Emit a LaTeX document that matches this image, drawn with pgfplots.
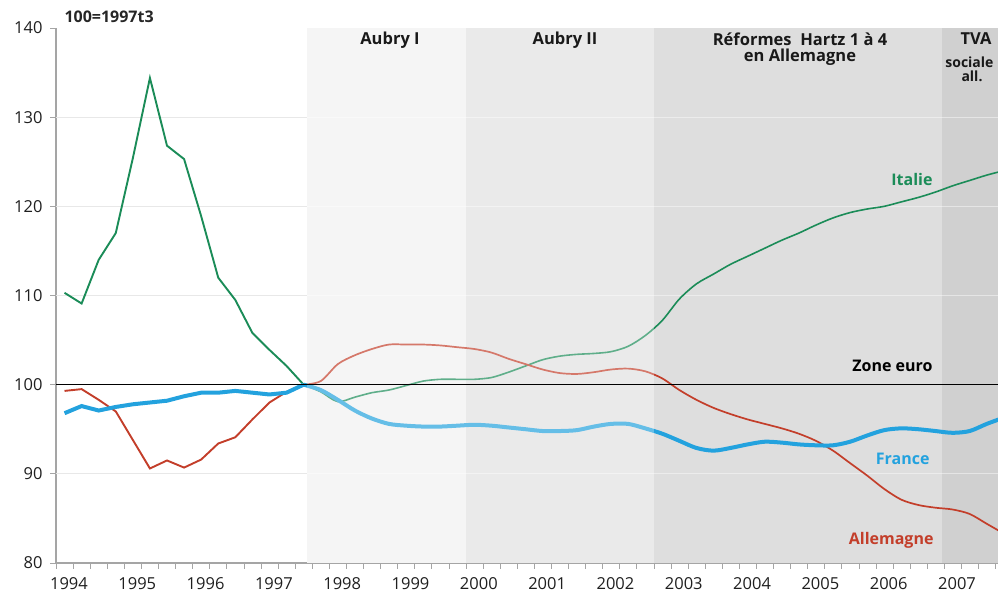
\documentclass[border=0pt]{standalone}
\usepackage{fontspec}
\setmainfont{Open Sans}
\usepackage{pgfplots}
\pgfplotsset{compat=1.18}
\usepackage{pgfplotstable}
\definecolor{ita}{RGB}{27,140,88}
\definecolor{deu}{RGB}{195,62,42}
\definecolor{fra}{RGB}{35,162,222}
\definecolor{axgray}{RGB}{165,165,165}
\definecolor{bandA}{RGB}{241,241,241}
\definecolor{bandB}{RGB}{226,226,226}
\definecolor{bandC}{RGB}{222,222,222}
\definecolor{bandD}{RGB}{208,208,208}

\pgfplotstableread{
t ita deu fra
1994.125 110.3 99.3 96.8
1994.375 109.1 99.5 97.6
1994.625 114.0 98.3 97.1
1994.875 117.0 97.0 97.5
1995.125 125.4 93.8 97.8
1995.375 134.4 90.6 98.0
1995.625 126.8 91.5 98.2
1995.875 125.3 90.7 98.7
1996.125 118.9 91.6 99.1
1996.375 112.0 93.4 99.1
1996.625 109.5 94.1 99.3
1996.875 105.8 96.1 99.1
1997.125 103.9 98.0 98.9
1997.375 102.1 99.2 99.1
1997.625 100.0 100.0 100.0
1997.875 99.2 100.4 99.4
1998.125 98.1 102.3 98.3
1998.375 98.6 103.3 97.1
1998.625 99.1 104.0 96.2
1998.875 99.4 104.5 95.6
1999.125 99.9 104.5 95.4
1999.375 100.4 104.5 95.3
1999.625 100.6 104.4 95.3
1999.875 100.6 104.2 95.4
2000.125 100.6 104.0 95.5
2000.375 100.8 103.6 95.4
2000.625 101.4 102.9 95.2
2000.875 102.1 102.3 95.0
2001.125 102.8 101.7 94.8
2001.375 103.2 101.3 94.8
2001.625 103.4 101.2 94.9
2001.875 103.5 101.4 95.3
2002.125 103.7 101.7 95.6
2002.375 104.3 101.8 95.6
2002.625 105.5 101.5 95.1
2002.875 107.2 100.7 94.5
2003.125 109.6 99.4 93.7
2003.375 111.3 98.3 92.9
2003.625 112.4 97.4 92.6
2003.875 113.5 96.7 92.9
2004.125 114.4 96.1 93.3
2004.375 115.3 95.6 93.6
2004.625 116.2 95.1 93.5
2004.875 117.0 94.5 93.3
2005.125 117.9 93.7 93.2
2005.375 118.7 92.6 93.2
2005.625 119.3 91.2 93.6
2005.875 119.7 89.8 94.3
2006.125 120.0 88.3 94.9
2006.375 120.5 87.1 95.1
2006.625 121.0 86.5 95.0
2006.875 121.6 86.2 94.8
2007.125 122.3 86.0 94.6
2007.375 122.9 85.5 94.8
2007.625 123.5 84.4 95.6
2007.875 124.0 83.3 96.3
}\data

\begin{document}
\begin{tikzpicture}[x=1pt,y=1pt]
\useasboundingbox (-56,-36) rectangle (942,563);
\begin{axis}[
  scale only axis, width=942pt, height=535pt,
  xmin=1994, xmax=2007.79, ymin=80, ymax=140,
  axis x line*=bottom, axis y line*=left,
  axis line style={draw=axgray, line width=1.6pt},
  tick align=outside, major tick length=6pt,
  tick style={draw=axgray, line width=0.8pt},
  xtick={1994,1994.25,...,2007.76}, xticklabels={},
  extra x ticks={1994.19,1995.19,1996.19,1997.19,1998.19,1999.19,2000.19,2001.19,2002.19,2003.19,2004.19,2005.19,2006.19,2007.19},
  extra x tick labels={1994,1995,1996,1997,1998,1999,2000,2001,2002,2003,2004,2005,2006,2007},
  extra x tick style={major tick length=0pt, xticklabel style={yshift=-14pt, inner sep=0pt}},
  ytick={80,90,...,140},
  /pgf/number format/assume math mode=true,
  ticklabel style={font=\fontsize{16.5}{19}\selectfont, text=black!88},
  yticklabel style={xshift=-4pt},
  clip=true,
]
% bands
\fill[bandA] (axis cs:1997.67,80) rectangle (axis cs:2000.0,140);
\fill[bandB] (axis cs:2000.0,80) rectangle (axis cs:2002.75,140);
\fill[bandC] (axis cs:2002.75,80) rectangle (axis cs:2006.97,140);
\fill[bandD] (axis cs:2006.97,80) rectangle (axis cs:2008,140);
% grid lines
\pgfplotsinvokeforeach{90,110,120,130}{
  \addplot[forget plot, draw=black!9, line width=0.7pt] coordinates {(1994,#1) (1997.67,#1)};
  \addplot[forget plot, draw=white, opacity=0.45, line width=0.7pt] coordinates {(1997.67,#1) (2008,#1)};
}
% series: early part (sharp) and later part (smooth)
\addplot[ita, line width=1.9pt, restrict x to domain=1994:1997.7] table[x=t,y=ita]{\data};
\addplot[ita, line width=1.6pt, smooth, tension=0.5, restrict x to domain=1997.6:2008] table[x=t,y=ita]{\data};
\addplot[deu, line width=1.9pt, restrict x to domain=1994:1997.7] table[x=t,y=deu]{\data};
\addplot[deu, line width=1.7pt, smooth, tension=0.5, restrict x to domain=1997.6:2008] table[x=t,y=deu]{\data};
\addplot[fra, line width=4pt, restrict x to domain=1994:1997.7] table[x=t,y=fra]{\data};
\addplot[fra, line width=4pt, smooth, tension=0.5, restrict x to domain=1997.6:2008] table[x=t,y=fra]{\data};
% fading over the Aubry periods
\fill[white, opacity=0.3] (axis cs:1997.67,80) rectangle (axis cs:2002.75,140);
% zone euro
\addplot[black, line width=1.3pt] coordinates {(1994,100) (2008,100)};
\end{axis}
% labels
\node[anchor=west, font=\fontsize{16}{19}\selectfont\bfseries, text=black!85] at (5,546) {100=1997t3};
\begin{scope}[every node/.style={font=\fontsize{16.5}{19}\selectfont\bfseries, text=black!90}]
\node at (334,523) {Aubry I};
\node at (509,523) {Aubry II};
\node at (744,524) {Réformes~ Hartz 1 à 4};
\node at (744,506) {en Allemagne};
\node at (920,524) {TVA};
\end{scope}
\begin{scope}[every node/.style={font=\fontsize{14}{16}\selectfont\bfseries, text=black!90}]
\node[anchor=east] at (941,501) {sociale};
\node at (916,487) {all.};
\end{scope}
\begin{scope}[every node/.style={font=\fontsize{16}{19}\selectfont\bfseries, anchor=east}]
\node[text=ita] at (880,383) {Italie};
\node[text=black] at (880,197) {Zone euro};
\node[text=fra] at (877,104) {France};
\node[text=deu] at (881,23) {Allemagne};
\end{scope}
\end{tikzpicture}
\end{document}
